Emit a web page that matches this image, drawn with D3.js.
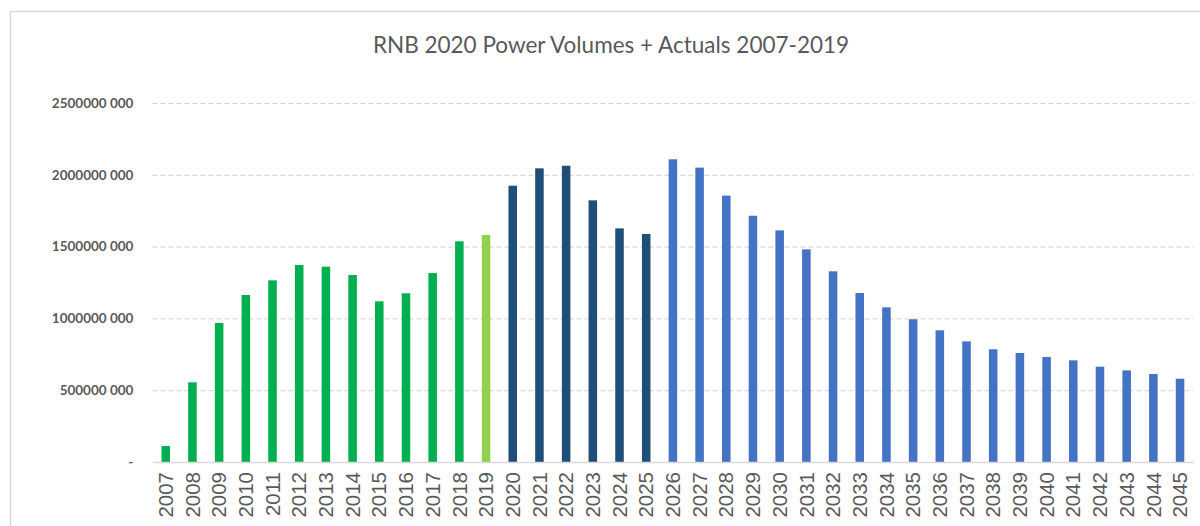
<!DOCTYPE html>
<html>
<head>
<meta charset="utf-8">
<script src="https://cdn.jsdelivr.net/npm/d3@7"></script>
<style>
  html, body { margin: 0; padding: 0; background: #fff; }
  svg { display: block; }
</style>
</head>
<body>
<svg id="chart" width="1200" height="526"></svg>
<script>
const title = "RNB 2020 Power Volumes + Actuals 2007-2019";
const years = ["2007","2008","2009","2010","2011","2012","2013","2014","2015","2016","2017","2018","2019",
  "2020","2021","2022","2023","2024","2025","2026","2027","2028","2029","2030","2031","2032","2033",
  "2034","2035","2036","2037","2038","2039","2040","2041","2042","2043","2044","2045"];
const values = [111e6, 555e6, 968e6, 1163e6, 1265e6, 1372e6, 1360e6, 1302e6, 1119e6, 1175e6, 1316e6, 1537e6, 1581e6,
  1924e6, 2045e6, 2063e6, 1822e6, 1627e6, 1588e6, 2108e6, 2050e6, 1855e6, 1715e6, 1613e6, 1481e6, 1328e6, 1177e6,
  1077e6, 994e6, 917e6, 840e6, 785e6, 759e6, 731e6, 708e6, 664e6, 638e6, 613e6, 580e6];
const groups = ["actual","actual","actual","actual","actual","actual","actual","actual","actual","actual","actual","actual","latest",
  "near","near","near","near","near","near","far","far","far","far","far","far","far","far",
  "far","far","far","far","far","far","far","far","far","far","far","far"];
const groupNames = ["actual","latest","near","far"];
const groupColors = ["#00B050","#92D050","#1F4E79","#4472C4"];
const yTicks = [0, 500e6, 1000e6, 1500e6, 2000e6, 2500e6];
const yTickLabels = ["-", "500000 000", "1000000 000", "1500000 000", "2000000 000", "2500000 000"];

const svg = d3.select("#chart");
const mLeft = 152.4, mRight = 1193.4, mTop = 103, mBottom = 462;

const x = d3.scaleBand().domain(years).range([mLeft, mRight]).paddingInner(0.68).paddingOuter(0.34);
const y = d3.scaleLinear().domain([0, 2500e6]).range([mBottom, mTop]);
const color = d3.scaleOrdinal().domain(groupNames).range(groupColors);

// chart frame
svg.append("path")
  .attr("d", `M10.5,526 V11.5 H1200`)
  .attr("fill", "none").attr("stroke", "#d9d9d9").attr("stroke-width", 1.5);

// title
svg.append("text")
  .attr("x", 611).attr("y", 53)
  .attr("text-anchor", "middle")
  .attr("font-family", "Lato, 'Open Sans', sans-serif")
  .attr("font-size", 22.5)
  .attr("fill", "#595959")
  .text(title);

// gridlines
const grid = svg.append("g")
  .attr("transform", `translate(${mLeft},0)`)
  .call(d3.axisLeft(y).tickValues(yTicks.slice(1)).tickSize(-(mRight - mLeft)).tickFormat(""));
grid.select(".domain").remove();
grid.selectAll(".tick line").attr("stroke", "#d0d0d0").attr("stroke-dasharray", "5,3").attr("stroke-width", 1);

// y labels
const yAxis = svg.append("g")
  .attr("transform", `translate(${mLeft},0)`)
  .call(d3.axisLeft(y).tickValues(yTicks).tickSize(0).tickPadding(19)
    .tickFormat((d, i) => yTickLabels[i]));
yAxis.select(".domain").remove();
yAxis.selectAll("text")
  .attr("font-family", "Lato, sans-serif")
  .attr("font-weight", "bold")
  .attr("font-size", 13.5)
  .attr("fill", "#595959");

// bars
svg.append("g").selectAll("rect")
  .data(years)
  .join("rect")
  .attr("x", (d) => x(d))
  .attr("width", x.bandwidth())
  .attr("y", (d, i) => y(values[i]))
  .attr("height", (d, i) => y(0) - y(values[i]))
  .attr("fill", (d, i) => color(groups[i]));

// x axis
const xAxis = svg.append("g")
  .attr("transform", `translate(0,${mBottom})`)
  .call(d3.axisBottom(x).tickSize(0).tickPadding(10));
xAxis.select(".domain").attr("stroke", "#d9d9d9").attr("stroke-width", 1.5);
xAxis.selectAll("text")
  .attr("font-family", "'Liberation Sans', Arial, sans-serif")
  .attr("font-size", 20.5)
  .attr("fill", "#595959")
  .attr("text-anchor", "end")
  .attr("transform", "rotate(-90)")
  .attr("x", -10)
  .attr("y", 0)
  .attr("dy", "0.35em");
</script>
</body>
</html>
